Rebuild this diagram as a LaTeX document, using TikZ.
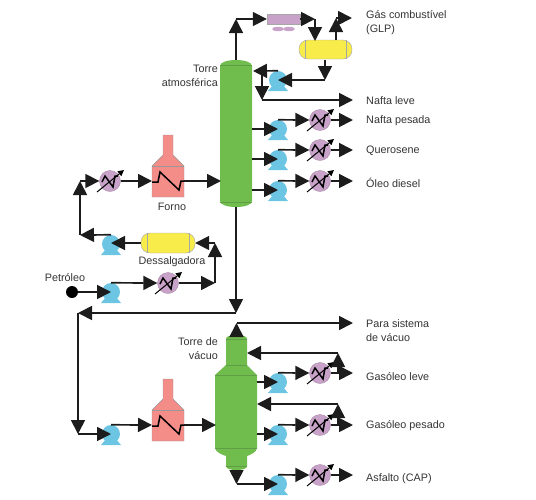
\documentclass[tikz,border=0pt]{standalone}
\usepackage{fontspec}
\setmainfont{Liberation Sans}
\usetikzlibrary{arrows.meta,calc}
\definecolor{towergreen}{HTML}{70BC4C}
\definecolor{bandgreen}{HTML}{5F9E46}
\definecolor{pumpblue}{HTML}{6CC5E3}
\definecolor{hxpurple}{HTML}{C8A2C8}
\definecolor{ovenred}{HTML}{F48C88}
\definecolor{drumyellow}{HTML}{F8EC4A}
\definecolor{inkblack}{HTML}{1C1C1C}
\tikzset{
  flow/.style={draw=inkblack,line width=1.7pt,-{Triangle[length=14pt,width=14pt]}},
  coil/.style={draw=black,line width=1.5pt,line join=miter},
  pumpbody/.style={circle,fill=pumpblue,minimum size=18pt,inner sep=0pt},
  hxbody/.style={circle,fill=hxpurple,draw=hxpurple!85!black,line width=.4pt,minimum size=21pt,inner sep=0pt},
  lbl/.style={text=black!80,font=\fontsize{10.8}{14}\selectfont,inner sep=0pt},
  lblright/.style={lbl,anchor=west,align=left},
  band/.style={draw=bandgreen,line width=.8pt},
}
% pump: base drawn first, then the round body
\newcommand{\pumpat}[2]{
  \fill[pumpblue] ($(#2)+(-10,11)$) -- ($(#2)+(-5,5)$) -- ($(#2)+(5,5)$) -- ($(#2)+(10,11)$) -- cycle;
  \node[pumpbody] (#1) at (#2) {};
}
% exchanger: circle, coil and the slanted arrow
\newcommand{\hxat}[2]{
  \node[hxbody] (#1) at (#2) {};
  \draw[coil] ($(#2)+(-8,1)$) -- ($(#2)+(-5,-5)$) -- ($(#2)+(3,6)$) -- ($(#2)+(5,-5)$) -- ($(#2)+(8,-5)$);
  \draw[draw=black,line width=1pt,-{Triangle[length=6pt,width=6pt]}] ($(#2)+(-13,11)$) -- ($(#2)+(14,-11)$);
}
\newcommand{\ovenat}[3]{
  \fill[ovenred,draw=black!40,line width=.4pt] (#2,#3) ++(-16,-1) -- ++(11,-11) -- ++(0,-20) -- ++(10,0) -- ++(0,20) -- ++(11,11) -- ++(0,31) -- ++(-32,0) -- cycle;
  \draw[black!40,line width=.4pt] (#2,#3) ++(-16,-1) -- ++(32,0);
  \node[inner sep=0pt] (#1) at (#2,#3) {};
  \draw[coil] (#2,#3) ++(-16,15) -- ++(6,0) -- ++(2,-10) -- ++(19,18) -- ++(2,-9) -- ++(5,0);
}
\begin{document}
\begin{tikzpicture}[x=1pt,y=-1pt]
  \useasboundingbox (0,0) rectangle (536,499);
  % atmospheric tower
  \fill[towergreen] (220,66) .. controls (220,62) and (228,60) .. (236,60) .. controls (244,60) and (252,62) .. (252,66) -- (252,201) .. controls (252,205) and (244,207) .. (236,207) .. controls (228,207) and (220,205) .. (220,201) -- cycle;
  \draw[band] (220,65) -- (252,65);
  \draw[band] (220,202) -- (252,202);
  \node[inner sep=0pt,minimum width=32pt,minimum height=147pt] (atmtower) at (236,133.5) {};
  % vacuum tower
  \fill[towergreen] (226,339) .. controls (226,336) and (231,335) .. (236.5,335) .. controls (242,335) and (247,336) .. (247,339) -- (247,365) -- (257,375) -- (257,448) .. controls (257,452) and (250,455) .. (247,456) -- (247,466) .. controls (247,469) and (242,470) .. (236.5,470) .. controls (231,470) and (226,469) .. (226,466) -- (226,456) .. controls (223,455) and (215,452) .. (215,448) -- (215,375) -- (226,365) -- cycle;
  \foreach \yy/\xa/\xb in {339/226/247,365/226/247,375/215/257,448/215/257,466/226/247}
    \draw[band] (\xa,\yy) -- (\xb,\yy);
  \node[inner sep=0pt,minimum width=42pt,minimum height=135pt] (vactower) at (236.5,402.5) {};
  % condenser and fans
  \node[fill=hxpurple,draw=black!35,line width=.4pt,minimum width=33pt,minimum height=10pt,inner sep=0pt] (condenser) at (283.5,19) {};
  \fill[hxpurple] (278,29) ellipse (6 and 2.2);
  \fill[hxpurple] (289,29) ellipse (6 and 2.2);
  % drums
  \node[fill=drumyellow,draw=black!35,line width=.4pt,rounded corners=9pt,minimum width=53pt,minimum height=19pt,inner sep=0pt] (reflux) at (325.5,49.5) {};
  \draw[black!35,line width=.4pt] (305,40) -- (305,59) (346,40) -- (346,59);
  \node[fill=drumyellow,draw=black!35,line width=.4pt,rounded corners=9pt,minimum width=54pt,minimum height=20pt,inner sep=0pt] (desalter) at (168,243) {};
  \draw[black!35,line width=.4pt] (147,233) -- (147,253) (189,233) -- (189,253);
  % furnaces
  \ovenat{ovenA}{168}{167}
  \ovenat{ovenB}{168}{411}
  % pumps
  \pumpat{pumpR}{278,80}
  \pumpat{pumpNP}{278,129}
  \pumpat{pumpQ}{278,159}
  \pumpat{pumpD}{278,190}
  \pumpat{pumpC}{111,244}
  \pumpat{pumpP}{111,292}
  \pumpat{pumpV}{111,434}
  \pumpat{pumpGL}{278,382}
  \pumpat{pumpGP}{278,434}
  \pumpat{pumpA}{278,484}
  % exchangers
  \hxat{hxNP}{320,120}
  \hxat{hxQ}{320,150}
  \hxat{hxD}{320,181}
  \hxat{hxF}{110,181}
  \hxat{hxP}{168,283}
  \hxat{hxGL}{320,373}
  \hxat{hxGP}{320,425}
  \hxat{hxA}{320,475}
  % feed point
  \node[circle,fill=black,minimum size=12pt,inner sep=0pt] (feed) at (72,292) {};
  % free ends and corners
  \coordinate (topturn) at (236,19);
  \coordinate (condturn) at (315,19);
  \coordinate (drumin) at (315,41);
  \coordinate (gasout) at (336,40);
  \coordinate (gasturn) at (336,18);
  \coordinate (gasend) at (352,18);
  \coordinate (drumout) at (325,60);
  \coordinate (refturn) at (325,80);
  \coordinate (refback) at (253,71);
  \coordinate (refsplit) at (262,71);
  \coordinate (naftaturn) at (262,100);
  \coordinate (naftaend) at (353,100);
  \coordinate (npend) at (353,120);
  \coordinate (qend) at (353,150);
  \coordinate (dend) at (353,181);
  \coordinate (crudeup) at (80,181);
  \coordinate (crudelow) at (80,235);
  \coordinate (dsturn) at (215,283);
  \coordinate (dsup) at (215,243);
  \coordinate (ovenAin) at (152,181);
  \coordinate (ovenAout) at (184,181);
  \coordinate (atmin) at (221,181);
  \coordinate (residdown) at (236,313);
  \coordinate (residturn) at (78,313);
  \coordinate (residlow) at (78,434);
  \coordinate (ovenBin) at (152,425);
  \coordinate (ovenBout) at (184,425);
  \coordinate (vacin) at (216,425);
  \coordinate (vacturn) at (236.5,323);
  \coordinate (vacend) at (353,323);
  \coordinate (glsplit) at (338,373);
  \coordinate (glturn) at (338,353);
  \coordinate (glback) at (247,353);
  \coordinate (glend) at (353,373);
  \coordinate (gpsplit) at (338,425);
  \coordinate (gpturn) at (338,404);
  \coordinate (gpback) at (257,404);
  \coordinate (gpend) at (353,425);
  \coordinate (asturn) at (236.5,484);
  \coordinate (asend) at (353,475);
  % atmospheric side
  \draw[flow] (atmtower.north) -- (topturn);
  \draw[flow] (topturn) -- (condenser.west);
  \draw[flow] (condenser.east) -- (condturn);
  \draw[flow] (condturn) -- (drumin);
  \draw[flow] (gasout) -- (gasturn);
  \draw[flow] (gasturn) -- (gasend);
  \draw[flow] (drumout) -- (refturn);
  \draw[flow] (refturn) -- (pumpR.center);
  \draw[flow] (pumpR.north) -- (refback);
  \draw[flow] (refsplit) -- (naftaturn);
  \draw[flow] (naftaturn) -- (naftaend);
  \foreach \pp/\hh/\ee/\yy in {pumpNP/hxNP/npend/129,pumpQ/hxQ/qend/159,pumpD/hxD/dend/190}{
    \draw[flow] (252,\yy) -- (\pp.center);
    \draw[flow] (\pp.north) -- (\hh.west);
    \draw[flow] (\hh.east) -- (\ee);
  }
  % crude train
  \draw[flow] (feed) -- (pumpP.center);
  \draw[flow] (pumpP.north) -- (hxP.west);
  \draw[flow] (hxP.east) -- (dsturn);
  \draw[flow] (dsturn) -- (dsup);
  \draw[flow] (dsup) -- (desalter.east);
  \draw[flow] (desalter.west) -- (111,243);
  \draw[flow] (pumpC.north) -- (crudelow);
  \draw[flow] (crudelow) -- (crudeup);
  \draw[flow] (crudeup) -- (hxF.west);
  \draw[flow] (hxF.east) -- (ovenAin);
  \draw[flow] (ovenAout) -- (atmin);
  % residue to vacuum tower
  \draw[flow] (atmtower.south) -- (residdown);
  \draw[flow] (residdown) -- (residturn);
  \draw[flow] (residturn) -- (residlow);
  \draw[flow] (residlow) -- (pumpV.center);
  \draw[flow] (pumpV.north) -- (ovenBin);
  \draw[flow] (ovenBout) -- (vacin);
  % vacuum side
  \draw[flow] (vactower.north) -- (vacturn);
  \draw[flow] (vacturn) -- (vacend);
  \foreach \pp/\hh/\ee/\yy in {pumpGL/hxGL/glend/382,pumpGP/hxGP/gpend/434}{
    \draw[flow] (257,\yy) -- (\pp.center);
    \draw[flow] (\pp.north) -- (\hh.west);
    \draw[flow] (\hh.east) -- (\ee);
  }
  \draw[flow] (glsplit) -- (glturn);
  \draw[flow] (glturn) -- (glback);
  \draw[flow] (gpsplit) -- (gpturn);
  \draw[flow] (gpturn) -- (gpback);
  \draw[flow] (vactower.south) -- (asturn);
  \draw[flow] (asturn) -- (pumpA.center);
  \draw[flow] (pumpA.north) -- (hxA.west);
  \draw[flow] (hxA.east) -- (asend);
  % labels
  \node[lblright] (glp) at (366,23) {Gás combustível\\(GLP)};
  \node[lblright] (nleve) at (366,101) {Nafta leve};
  \node[lblright] (npesada) at (366,121) {Nafta pesada};
  \node[lblright] (quero) at (366,151) {Querosene};
  \node[lblright] (diesel) at (366,183) {Óleo diesel};
  \node[lblright] (vacsys) at (366,331) {Para sistema\\de vácuo};
  \node[lblright] (gleve) at (366,377) {Gasóleo leve};
  \node[lblright] (gpesado) at (366,426) {Gasóleo pesado};
  \node[lblright] (asfalto) at (366,479) {Asfalto (CAP)};
  \node[lbl,align=right,anchor=east] (atmlabel) at (218,76) {Torre\\atmosférica};
  \node[lbl,align=right,anchor=east] (vaclabel) at (218,349) {Torre de\\vácuo};
  \node[lbl] (fornolabel) at (172,207) {Forno};
  \node[lbl] (deslabel) at (172,262) {Dessalgadora};
  \node[lbl] (petlabel) at (65,278) {Petróleo};
\end{tikzpicture}
\end{document}
